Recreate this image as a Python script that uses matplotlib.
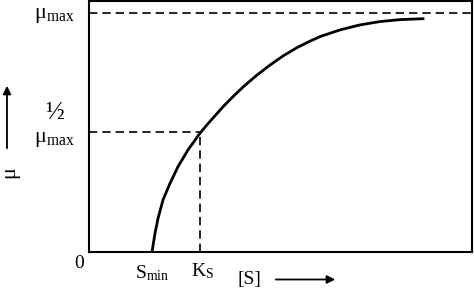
import numpy as np
import matplotlib
matplotlib.use("Agg")
import matplotlib.pyplot as plt
from matplotlib.patches import FancyArrowPatch

# --- data (x in substrate units, y as fraction of mu_max) ---
s_vals = [63, 66, 69, 74, 81, 89, 99, 111, 118, 126, 135, 144, 154, 167,
          181, 194, 208, 221, 231, 251, 271, 291, 311, 334]
mu_vals = [0.0, 0.078, 0.14, 0.218, 0.287, 0.357, 0.427, 0.497, 0.532, 0.57,
           0.612, 0.65, 0.69, 0.737, 0.782, 0.82, 0.855, 0.882, 0.901, 0.929,
           0.95, 0.964, 0.972, 0.976]
mu_max = 1.0
s_min = 63
k_s = 111

plt.rcParams['font.family'] = ['Liberation Serif', 'DejaVu Serif']
plt.rcParams['mathtext.fontset'] = 'custom'
plt.rcParams['mathtext.rm'] = 'Liberation Serif'
plt.rcParams['mathtext.it'] = 'Liberation Serif'

fig = plt.figure(figsize=(4.74, 2.99), dpi=100)
ax = fig.add_axes([89/474, 47/299, 383/474, 251/299])

ax.plot(s_vals, mu_vals, color='black', lw=2.0, solid_joinstyle='round')

# dashed guide lines
dash = (0, (5, 3))
ax.axhline(mu_max, color='black', lw=1.2, ls=dash)
ax.plot([0, k_s], [mu_max/2, mu_max/2], color='black', lw=1.2, ls=dash)
ax.plot([k_s, k_s], [0, mu_max/2], color='black', lw=1.2, ls=dash)

ax.set_xlim(0, 383)
ax.set_ylim(0, 1.05)
ax.set_xticks([])
ax.set_yticks([])
for sp in ax.spines.values():
    sp.set_linewidth(1.5)

fs = 16
mu_lbl = r'$\mathrm{μ}_{\mathrm{max}}$'
# y-side labels
ax.text(-14, mu_max - 0.01, mu_lbl, ha='right', va='center', fontsize=fs)
ax.text(-34, 0.585, '½', ha='center', va='center', fontsize=fs + 2)
ax.text(-14, mu_max/2 - 0.03, mu_lbl, ha='right', va='center', fontsize=fs)
ax.text(-10, -0.05, '0', ha='center', va='center', fontsize=fs - 2)

# x-side labels
ax.text(s_min, -0.09, r'$\mathrm{S}_{\mathrm{min}}$', ha='center', va='center', fontsize=fs - 2)
ax.text(k_s + 2, -0.08, r'$\mathrm{K}_{\mathrm{S}}$', ha='center', va='center', fontsize=fs - 2)
ax.text(160, -0.115, '[S]', ha='center', va='center', fontsize=fs - 2)
ax.annotate('', xy=(249, -0.115), xytext=(184, -0.115), xycoords='data',
            arrowprops=dict(arrowstyle='-|>', color='black', lw=1.3,
                            mutation_scale=12), annotation_clip=False)

# y axis label with arrow
fig.text(10/474, 1 - 172/299, 'μ', rotation=90, ha='center', va='center', fontsize=fs)
fig.add_artist(FancyArrowPatch(
    (7/474, 1 - 151/299), (7/474, 1 - 83/299), transform=fig.transFigure,
    arrowstyle='-|>', color='black', lw=1.3, mutation_scale=12))

fig.savefig('out.png', dpi=100)
